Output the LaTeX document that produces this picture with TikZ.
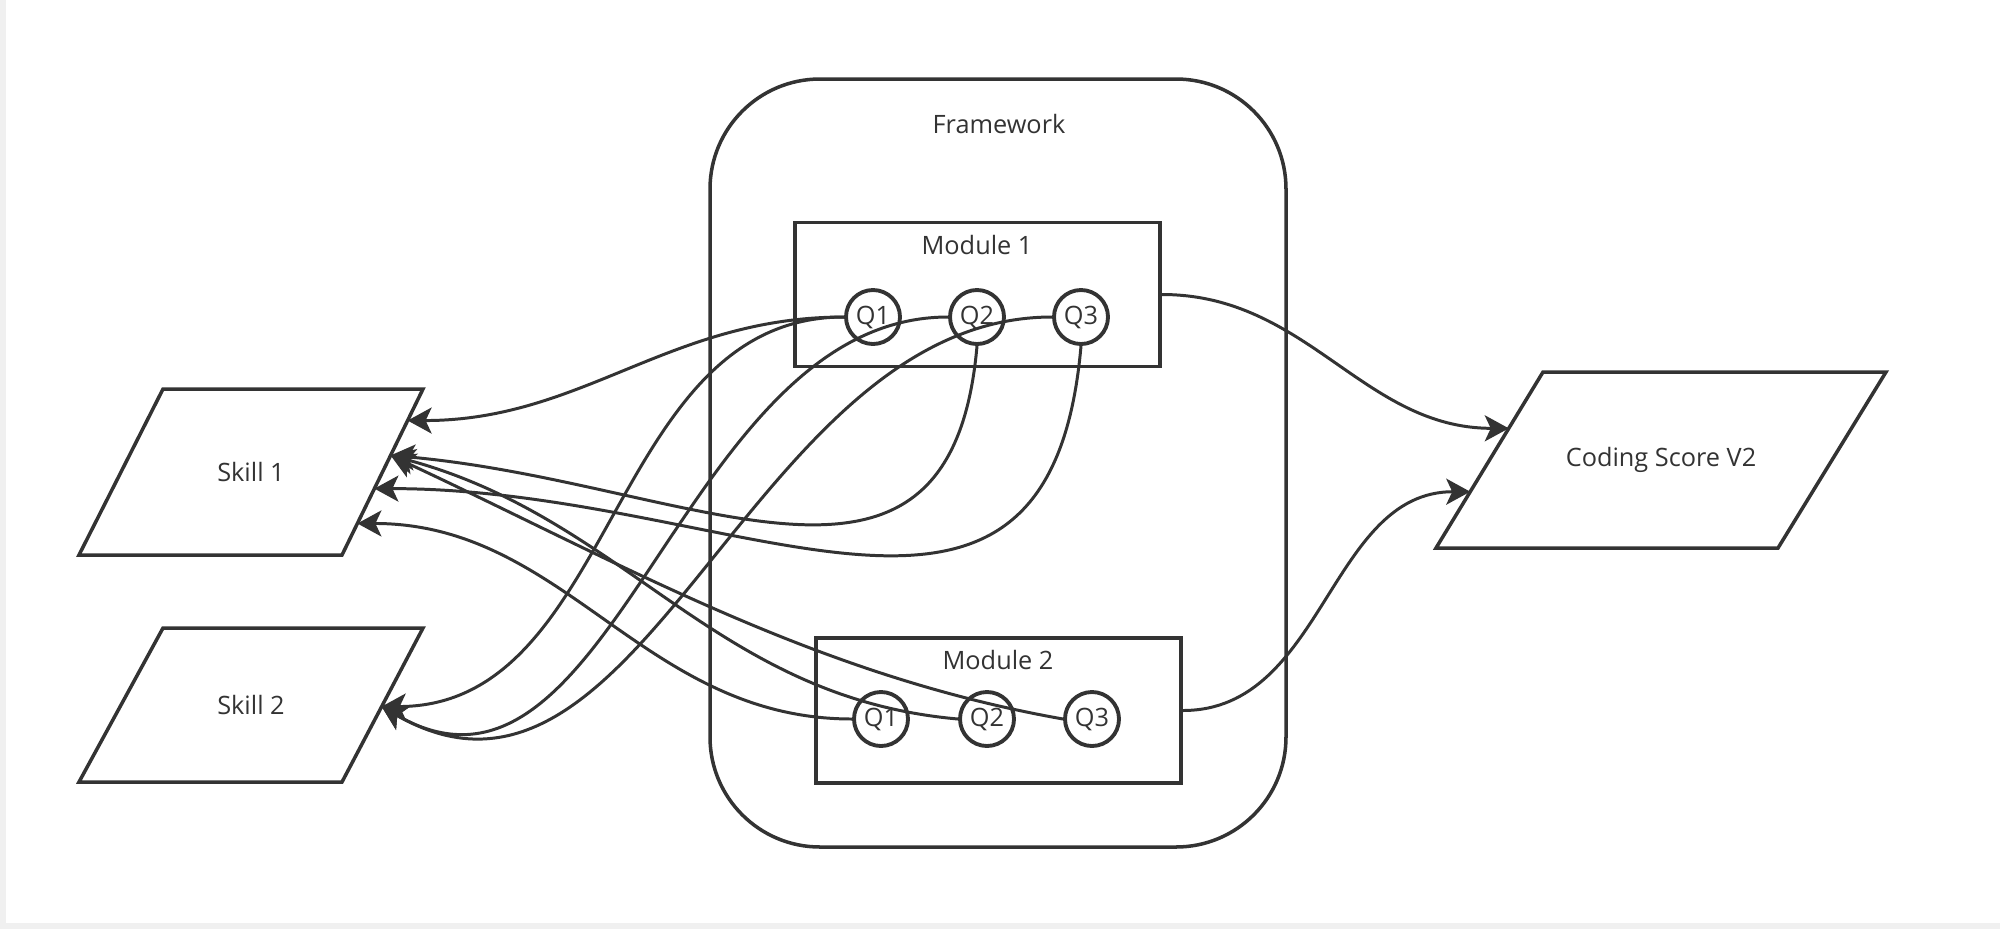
\documentclass[tikz,border=0pt]{standalone}
\usepackage{fontspec}
\setmainfont{Open Sans}
\usepackage{tikz}
\usetikzlibrary{arrows.meta,calc}
\definecolor{ink}{RGB}{51,51,51}

\begin{document}
\begin{tikzpicture}[every node/.style={text=ink, font=\fontsize{7.2}{9}\selectfont},
  >={Stealth[length=2.4mm, width=2.6mm, inset=0.6mm]},
  link/.style={->, draw=ink, line width=0.85pt},
  module/.style={draw=ink, line width=1.1pt, minimum width=3.65cm, minimum height=1.44cm},
  qnode/.style={circle, draw=ink, line width=1.1pt, minimum size=0.54cm, inner sep=0pt},
  outline/.style={draw=ink, line width=1pt}]
\useasboundingbox (0,0) rectangle (20,-9.29);
\draw[gray!12, line width=1.5pt] (0.03,0) -- (0.03,-9.26) -- (20,-9.26);

% framework
\node[draw=ink, line width=1pt, rounded corners=1.1cm, minimum width=5.76cm, minimum height=7.68cm] (frame) at (9.98,-4.63) {};
\node (framelabel) at (9.99,-1.24) {Framework};

% modules
\node[module] (m1) at (9.775,-2.945) {};
\node (m1label) at (9.77,-2.45) {Module 1};
\node[qnode] (m1q1) at (8.73,-3.17) {Q1};
\node[qnode] (m1q2) at (9.77,-3.17) {Q2};
\node[qnode] (m1q3) at (10.81,-3.17) {Q3};

\node[module, minimum height=1.45cm] (m2) at (9.985,-7.105) {};
\node (m2label) at (9.98,-6.60) {Module 2};
\node[qnode] (m2q1) at (8.81,-7.19) {Q1};
\node[qnode] (m2q2) at (9.87,-7.19) {Q2};
\node[qnode] (m2q3) at (10.92,-7.19) {Q3};

% skills and score
\node (skill1) at (2.51,-4.72) {Skill 1};
\draw[outline] ($(skill1)+(-0.88,0.83)$) coordinate (s1tl) -- ($(skill1)+(1.72,0.83)$) coordinate (s1tr)
  -- ($(skill1)+(0.91,-0.83)$) coordinate (s1br) -- ($(skill1)+(-1.72,-0.83)$) coordinate (s1bl) -- cycle;

\node (skill2) at (2.51,-7.05) {Skill 2};
\draw[outline] ($(skill2)+(-0.88,0.77)$) coordinate (s2tl) -- ($(skill2)+(1.72,0.77)$) coordinate (s2tr)
  -- ($(skill2)+(0.91,-0.77)$) coordinate (s2br) -- ($(skill2)+(-1.72,-0.77)$) coordinate (s2bl) -- cycle;

\node (score) at (16.61,-4.60) {Coding Score V2};
\draw[outline] ($(score)+(-1.18,0.88)$) coordinate (sctl) -- ($(score)+(2.25,0.88)$) coordinate (sctr)
  -- ($(score)+(1.17,-0.88)$) coordinate (scbr) -- ($(score)+(-2.25,-0.88)$) coordinate (scbl) -- cycle;

\coordinate (s1a) at ($(s1tr)!0.19!(s1br)$);
\coordinate (s1b) at ($(s1tr)!0.40!(s1br)$);
\coordinate (s1c) at ($(s1tr)!0.60!(s1br)$);
\coordinate (s1d) at ($(s1tr)!0.81!(s1br)$);
\coordinate (s2a) at ($(s2tr)!0.51!(s2br)$);
\coordinate (sca) at ($(sctl)!0.32!(scbl)$);
\coordinate (scb) at ($(sctl)!0.68!(scbl)$);

% links
\draw[link] (m1.east) to[out=0, in=180] (sca);
\draw[link] (m2.east) to[out=0, in=180] (scb);

\draw[link] (m1q1.west) to[out=180, in=0] (s1a);
\draw[link] (m1q1.west) to[out=180, in=0] (s2a);
\draw[link] (m1q2.west) to[out=180, in=-30] (s2a);
\draw[link] (m1q3.west) to[out=180, in=-30] (s2a);
\draw[link] (m1q2.south) to[out=-95, in=-5, looseness=1.3] (s1b);
\draw[link] (m1q3.south) to[out=-95, in=0, looseness=1.3] (s1c);

\draw[link] (m2q1.west) to[out=180, in=0] (s1d);
\draw[link] (m2q2.west) to[out=175, in=-15] (s1b);
\draw[link] (m2q3.west) to[out=170, in=-25, looseness=0.9] (s1b);
\end{tikzpicture}
\end{document}
